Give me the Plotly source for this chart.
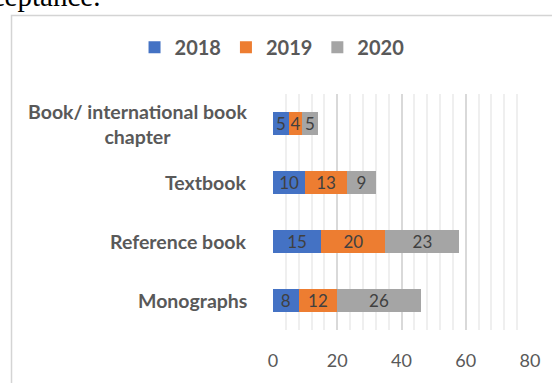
import plotly.graph_objects as go

# Publication counts by type and year
categories = ["Book/ international book<br>chapter", "Textbook", "Reference book", "Monographs"]
years = ["2018", "2019", "2020"]
values_2018 = [5, 10, 15, 8]
values_2019 = [4, 13, 20, 12]
values_2020 = [5, 9, 23, 26]
colors = ["#4472C4", "#ED7D31", "#A5A5A5"]
x_ticks = [0, 20, 40, 60, 80]

W, H = 552, 383
L, R, T, B = 273, 21, 94, 41
plot_w = W - L - R
plot_h = H - T - B


def px_x(px):
    return (px - L) / plot_w


def px_y(py):
    return (H - B - py) / plot_h


fig = go.Figure()
for name, vals, col in zip(years, [values_2018, values_2019, values_2020], colors):
    fig.add_trace(go.Bar(
        name=name,
        y=categories,
        x=vals,
        orientation="h",
        marker=dict(color=col, line=dict(width=0)),
        width=0.39,
        text=vals,
        texttemplate="%{x}",
        textposition="inside",
        insidetextanchor="middle",
        textangle=0,
        constraintext="none",
        textfont=dict(family="Lato", size=17, color="#404040"),
    ))

# Category labels, centred lines and right-aligned next to the axis
annotations = []
for cat in categories:
    annotations.append(dict(
        x=0, xref="paper", y=cat, yref="y",
        text=cat, showarrow=False,
        xanchor="right", yanchor="middle", align="center",
        xshift=-24,
        font=dict(family="Lato", size=19.5, color="#595959", weight="bold"),
    ))

# Trailing text of the paragraph above the chart
annotations.append(dict(
    x=px_x(101), xref="paper", y=px_y(10), yref="paper",
    text="acceptance.", showarrow=False,
    xanchor="right", yanchor="bottom",
    font=dict(family="Liberation Serif", size=29, color="#000000"),
))

fig.update_layout(
    width=W, height=H,
    margin=dict(l=L, r=R, t=T, b=B, pad=0),
    paper_bgcolor="white",
    plot_bgcolor="white",
    barmode="stack",
    bargap=0.61,
    uniformtext=dict(minsize=17, mode="show"),
    showlegend=True,
    legend=dict(
        orientation="h",
        x=px_x(134), xanchor="left",
        y=px_y(45), yanchor="middle",
        font=dict(family="Lato", size=20, color="#595959", weight="bold"),
        itemclick=False,
        traceorder="normal",
    ),
    xaxis=dict(
        range=[0, 80],
        tickvals=x_ticks,
        ticktext=[str(v) for v in x_ticks],
        showgrid=True,
        gridcolor="#D9D9D9",
        gridwidth=1.5,
        zeroline=False,
        showline=False,
        ticks="",
        ticklabelstandoff=18,
        tickfont=dict(family="Lato", size=18, color="#595959"),
        minor=dict(dtick=4, showgrid=True, gridcolor="#EFEFEF", gridwidth=1.5),
        fixedrange=True,
    ),
    yaxis=dict(
        autorange="reversed",
        showticklabels=False,
        showgrid=False,
        zeroline=False,
        showline=False,
        fixedrange=True,
    ),
    annotations=annotations,
    shapes=[dict(
        type="rect", xref="paper", yref="paper",
        x0=px_x(10.5), x1=px_x(W + 20), y0=px_y(H + 20), y1=px_y(11.5),
        line=dict(color="#D4D4D4", width=1.5),
        fillcolor="rgba(0,0,0,0)",
        layer="below",
    )],
)

fig.write_html("out.html")
